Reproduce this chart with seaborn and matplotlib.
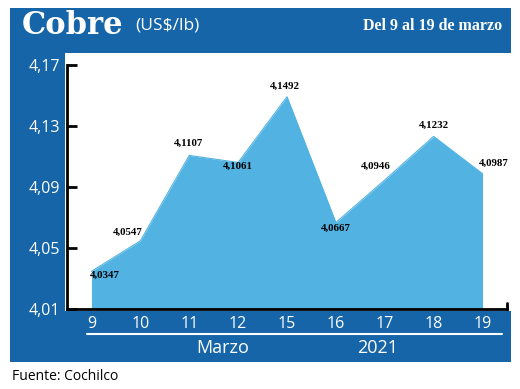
import matplotlib
matplotlib.use('Agg')
import matplotlib.pyplot as plt
import seaborn as sns
import pandas as pd
from matplotlib.patches import Rectangle
from matplotlib.lines import Line2D

# ---- data ----
days = ['9', '10', '11', '12', '15', '16', '17', '18', '19']
prices = [4.0347, 4.0547, 4.1107, 4.1061, 4.1492, 4.0667, 4.0946, 4.1232, 4.0987]
price_labels = ['4,0347', '4,0547', '4,1107', '4,1061', '4,1492',
                '4,0667', '4,0946', '4,1232', '4,0987']
y_ticks = [4.01, 4.05, 4.09, 4.13, 4.17]
y_tick_labels = ['4,01', '4,05', '4,09', '4,13', '4,17']
y_min, y_max = 4.01, 4.17

# label offsets in pixels (dx, dy; dy positive = up)
label_offsets = [(13, -4), (-13, 9), (-1, 12), (0, -4), (-2, 10),
                 (0, -6), (-9, 14), (0, 11), (11, 10)]

sns.set_theme(style='white')
plt.rcParams['font.family'] = ['Open Sans', 'DejaVu Sans']

W, H = 520, 389
fig = plt.figure(figsize=(5.2, 3.89), dpi=100)
fig.patch.set_facecolor('white')


def fx(px):
    return px / W


def fy(py):
    return 1 - py / H


BLUE = '#1665a8'
FILL = '#52b3e3'

fig.patches.append(Rectangle((fx(10), fy(362)), fx(511) - fx(10), fy(8) - fy(362),
                             transform=fig.transFigure, facecolor=BLUE, edgecolor='none', zorder=-2))
fig.patches.append(Rectangle((fx(65), fy(311)), fx(511) - fx(65), fy(53) - fy(311),
                             transform=fig.transFigure, facecolor='white', edgecolor='none', zorder=-1))

ax = fig.add_axes([fx(67), fy(309), fx(507) - fx(67), fy(65) - fy(309)])
ax.set_zorder(2)
ax.patch.set_alpha(0)

df = pd.DataFrame({'pos': list(range(len(days))), 'price': prices})
sns.lineplot(data=df, x='pos', y='price', ax=ax, color=FILL, linewidth=0.8)
ax.fill_between(df['pos'], df['price'], y_min, color=FILL, linewidth=0)

ax.set_xlim(-0.5, len(days) - 0.5)
ax.set_ylim(y_min, y_max)
ax.set_xticks(df['pos'])
ax.set_xticklabels(days)
ax.set_yticks(y_ticks)
ax.set_yticklabels(y_tick_labels)
ax.set_xlabel('')
ax.set_ylabel('')

for s in ['top', 'right']:
    ax.spines[s].set_visible(False)
for s in ['left', 'bottom']:
    ax.spines[s].set_color('black')
    ax.spines[s].set_linewidth(2)

ax.tick_params(axis='y', direction='in', length=7, width=2, color='black',
               labelcolor='white', labelsize=11.5, pad=5, left=True)
ax.tick_params(axis='x', length=0, labelcolor='white', labelsize=11.5, pad=5, bottom=True)
ax.add_line(Line2D([1, 1], [0, 0.025], transform=ax.transAxes, color='black', lw=2, clip_on=False))

for i, (p, lab) in enumerate(zip(prices, price_labels)):
    dx, dy = label_offsets[i]
    ax.annotate(lab, (i, p), xytext=(dx, dy), textcoords='offset pixels',
                ha='center', va='center', fontsize=7.8, fontweight='bold',
                family=['Liberation Serif', 'DejaVu Serif'], color='black')

# white separator and bottom captions
fig.add_artist(Line2D([fx(87), fx(502)], [fy(334), fy(334)], color='white', lw=1.5))
fig.text(fx(223), fy(348), 'Marzo', color='white', fontsize=13, ha='center', va='center')
fig.text(fx(378), fy(348), '2021', color='white', fontsize=13, ha='center', va='center')

# title bar texts
fig.text(fx(22), fy(25), 'Cobre', color='white', fontsize=22, fontweight='bold',
         family=['DejaVu Serif'], ha='left', va='center')
fig.text(fx(135), fy(26), '(US$/lb)', color='white', fontsize=12.5, ha='left', va='center')
fig.text(fx(502), fy(26), 'Del 9 al 19 de marzo', color='white', fontsize=11.5,
         family=['Liberation Serif', 'DejaVu Serif'], fontweight='bold', ha='right', va='center')

fig.text(fx(12), fy(377), 'Fuente: Cochilco', color='black', fontsize=10, ha='left', va='center')

fig.savefig('out.png', dpi=100)
